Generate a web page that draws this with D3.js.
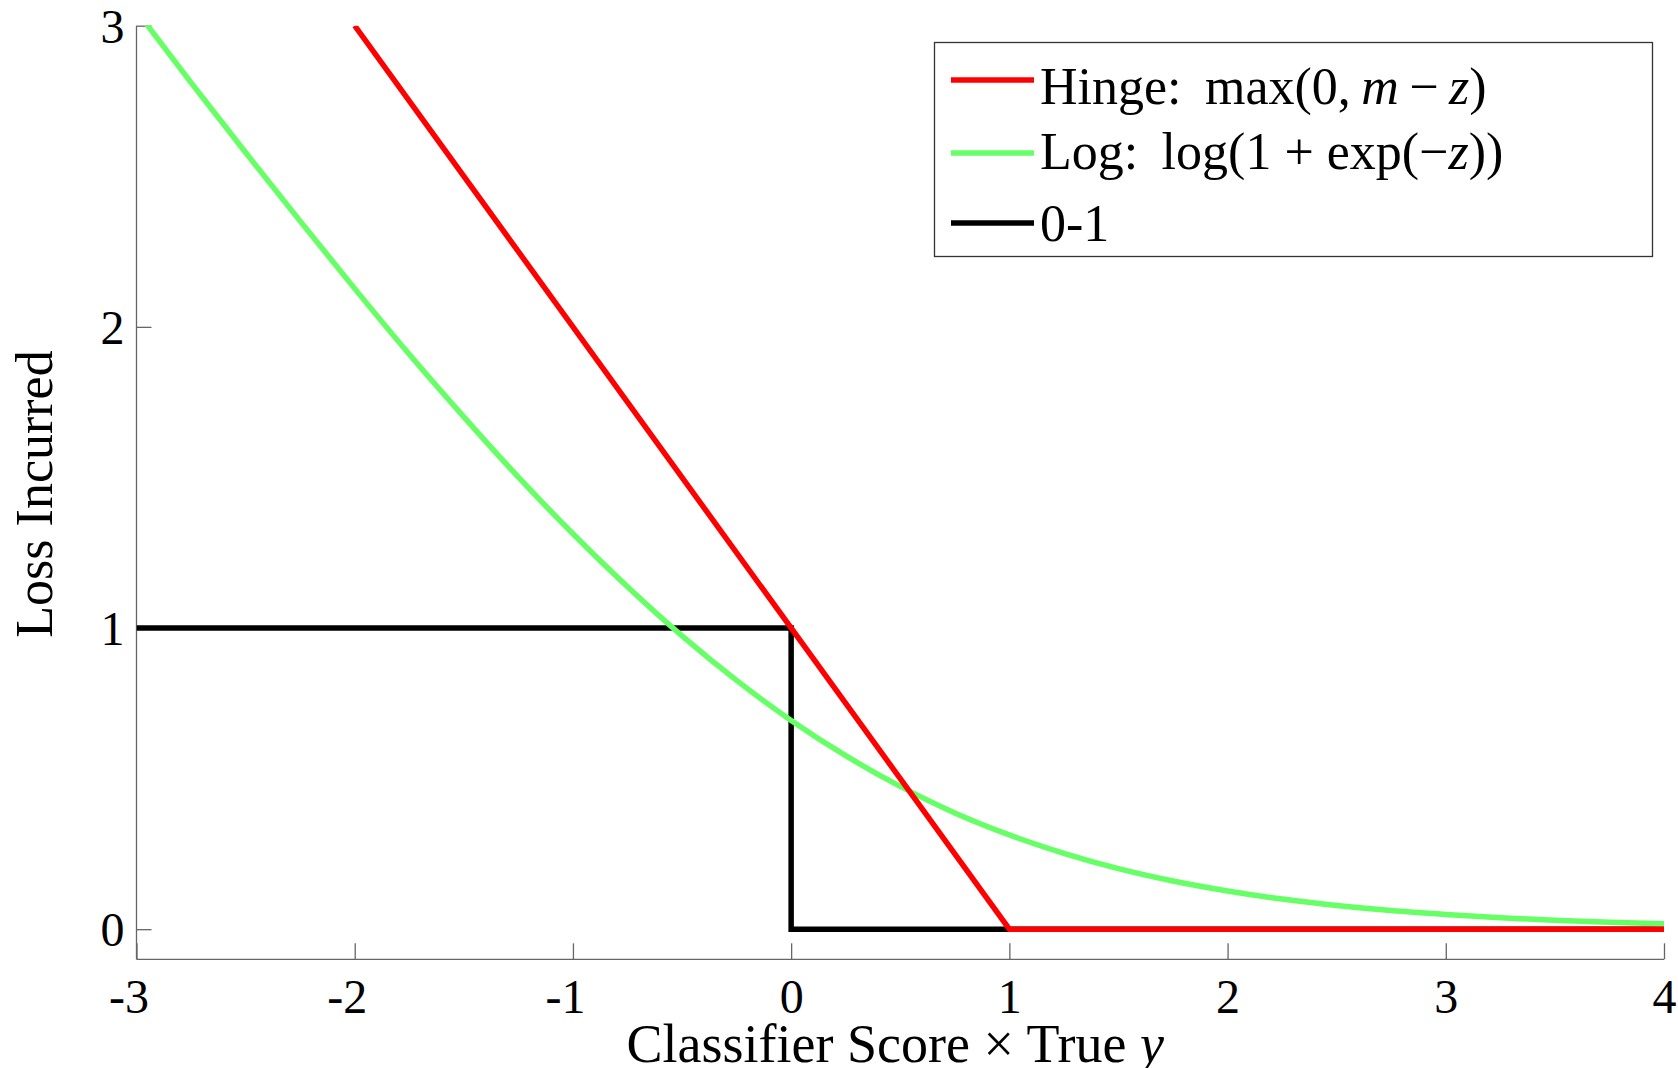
<!DOCTYPE html>
<html>
<head>
<meta charset="utf-8">
<script src="https://cdnjs.cloudflare.com/ajax/libs/d3/7.8.5/d3.min.js"></script>
<style>
  body { margin: 0; background: #fff; }
  svg { display: block; }
  text { font-family: "Liberation Serif", "Times New Roman", serif; fill: #000; }
  .axis path, .axis line { stroke: #666; stroke-width: 1.3; }
</style>
</head>
<body>
<div id="chart"></div>
<script>

// tick values
var xTicks = [-3, -2, -1, 0, 1, 2, 3, 4];
var yTicks = [0, 1, 2, 3];

// hinge loss max(0, 1 - z)
var hingeZ = [-2, 1, 4];
var hingeLoss = [3, 0, 0];

// 0-1 loss (step at z = 0)
var zeroOneZ = [-3, 0, 0, 4];
var zeroOneLoss = [1, 1, 0, 0];

// logistic loss
var logZ = [-3, -2.75, -2.5, -2.25, -2, -1.75, -1.5, -1.25, -1, -0.75, -0.5, -0.25,
  0, 0.25, 0.5, 0.75, 1, 1.25, 1.5, 1.75, 2, 2.25, 2.5, 2.75, 3, 3.25, 3.5, 3.75, 4];
var logLoss = [3.049, 2.811, 2.579, 2.351, 2.127, 1.909, 1.701, 1.501, 1.313, 1.137, 0.974, 0.826,
  0.693, 0.576, 0.474, 0.386, 0.313, 0.252, 0.201, 0.160, 0.127, 0.100, 0.079, 0.062, 0.049, 0.038, 0.030, 0.023, 0.018];

var legendLabels = ["Hinge", "Log", "0-1"];
var colors = ["#ff0000", "#66ff66", "#000000"];

var width = 1678, height = 1068;
var plotLeft = 136.5, plotRight = 1664, plotTop = 25.7, plotBottom = 959.3;

var svg = d3.select("#chart").append("svg")
    .attr("width", width)
    .attr("height", height);

var x = d3.scaleLinear().domain([-3, 4]).range([plotLeft, plotRight]);
var y = d3.scaleLinear().domain([-0.1, 3]).range([plotBottom, plotTop]);

svg.append("defs").append("clipPath")
    .attr("id", "clip")
  .append("rect")
    .attr("x", plotLeft)
    .attr("y", plotTop)
    .attr("width", plotRight - plotLeft + 4)
    .attr("height", plotBottom - plotTop);

// axes: ticks point inward, labels outside
var xAxis = d3.axisBottom(x).tickValues(xTicks).tickSize(-16).tickSizeOuter(0).tickFormat(d3.format("d"));
var yAxis = d3.axisLeft(y).tickValues(yTicks).tickSize(-15).tickSizeOuter(0).tickFormat(d3.format("d"));

var gx = svg.append("g")
    .attr("class", "axis xAxis")
    .attr("transform", "translate(0," + plotBottom + ")")
    .call(xAxis);
gx.select(".domain").attr("d", "M" + plotLeft + ",0H" + plotRight);
gx.selectAll(".tick text")
    .attr("y", 20)
    .attr("dy", "0.71em")
    .attr("dx", function (d) { return d < 0 ? -8 : 0; })
    .style("font-size", "48px")
    .text(function (d) { return d < 0 ? "-" + Math.abs(d) : d; });

var gy = svg.append("g")
    .attr("class", "axis yAxis")
    .attr("transform", "translate(" + plotLeft + ",0)")
    .call(yAxis);
gy.select(".domain").attr("d", "M0," + plotTop + "V" + plotBottom);
gy.selectAll(".tick text")
    .attr("x", -12)
    .attr("dy", "0.34em")
    .style("font-size", "48px");

svg.selectAll(".axis text").attr("fill", "#000");

// lines
var line = d3.line()
    .x(function (d) { return x(d[0]); })
    .y(function (d) { return y(d[1]); });

var plot = svg.append("g").attr("clip-path", "url(#clip)");

plot.append("path")
    .datum(d3.zip(zeroOneZ, zeroOneLoss))
    .attr("fill", "none")
    .attr("stroke", colors[2])
    .attr("stroke-width", 5.5)
    .attr("d", line);

plot.append("path")
    .datum(d3.zip(logZ, logLoss))
    .attr("fill", "none")
    .attr("stroke", colors[1])
    .attr("stroke-width", 5.5)
    .attr("d", line.curve(d3.curveMonotoneX));

line.curve(d3.curveLinear);
plot.append("path")
    .datum(d3.zip(hingeZ, hingeLoss))
    .attr("fill", "none")
    .attr("stroke", colors[0])
    .attr("stroke-width", 5.5)
    .attr("d", line);

// axis titles
var xt = svg.append("text")
    .attr("x", (plotLeft + plotRight) / 2 - 5)
    .attr("y", 1062)
    .attr("text-anchor", "middle")
    .style("font-size", "54px");
xt.append("tspan").text("Classifier Score \u00d7 True ");
xt.append("tspan").style("font-style", "italic").text("y");

svg.append("text")
    .attr("transform", "translate(52,494) rotate(-90)")
    .attr("text-anchor", "middle")
    .style("font-size", "52px")
    .text("Loss Incurred");

// legend
var legend = svg.append("g");
legend.append("rect")
    .attr("x", 934.5)
    .attr("y", 42.5)
    .attr("width", 718)
    .attr("height", 214)
    .attr("fill", "#fff")
    .attr("stroke", "#333")
    .attr("stroke-width", 1.3);

var rowsY = [80, 153, 223];
var textDy = [24, 16, 18];
var rows = legend.selectAll(".row")
    .data(legendLabels)
  .enter().append("g")
    .attr("class", "row")
    .attr("transform", function (d, i) { return "translate(0," + rowsY[i] + ")"; });

rows.append("line")
    .attr("x1", 951)
    .attr("x2", 1034)
    .attr("stroke", function (d, i) { return colors[i]; })
    .attr("stroke-width", 5.5);

var labelText = rows.append("text")
    .attr("x", 1040)
    .attr("y", function (d, i) { return textDy[i]; })
    .style("font-size", "52px");

function addParts(sel, parts) {
  parts.forEach(function (p) {
    sel.append("tspan")
      .style("font-style", p[1] ? "italic" : "normal")
      .text(p[0]);
  });
}

addParts(d3.select(labelText.nodes()[0]),
  [["Hinge:\u2009 max(0,\u2009", false], ["m", true], ["\u2009\u2212\u2009", false], ["z", true], [")", false]]);
addParts(d3.select(labelText.nodes()[1]),
  [["Log:\u2009 log(1 + exp(\u2212", false], ["z", true], ["))", false]]);
addParts(d3.select(labelText.nodes()[2]),
  [["0-1", false]]);

</script>
</body>
</html>
